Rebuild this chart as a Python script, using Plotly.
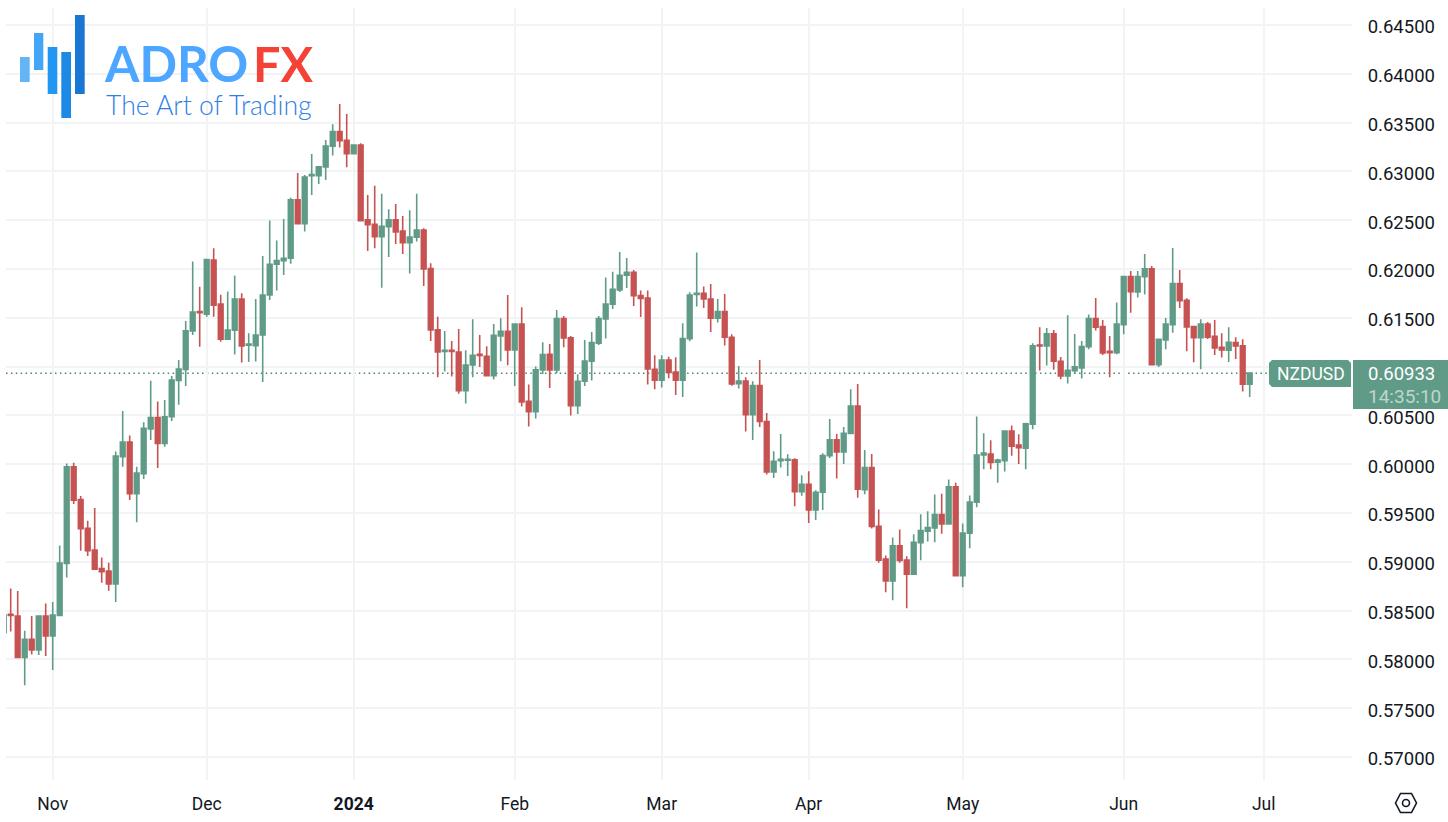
import pandas as pd
import plotly.graph_objects as go

opens = [
0.58273,0.58461,0.58444,0.58020,0.58205,0.58096,0.58444,0.58239,0.58451,0.58984,
0.59974,0.59639,0.59342,0.59120,0.58932,0.58905,0.58772,0.60076,0.60227,0.59697,
0.59902,0.60360,0.60479,0.60213,0.60486,0.60858,0.60971,0.61364,0.61565,0.61538,
0.62091,0.61640,0.61282,0.61374,0.61693,0.61219,0.61215,0.61324,0.61734,0.62048,
0.62086,0.62110,0.62708,0.62465,0.62957,0.62957,0.63046,0.63258,0.63408,0.63319,
0.63182,0.63271,0.62503,0.62458,0.62332,0.62434,0.62503,0.62390,0.62270,0.62325,
0.62400,0.62004,0.61376,0.61154,0.61167,0.61150,0.60754,0.61017,0.61126,0.61106,
0.60908,0.61314,0.61362,0.61171,0.61437,0.60645,0.60539,0.60966,0.61126,0.60966,
0.61492,0.61294,0.60600,0.60850,0.61055,0.61239,0.61488,0.61639,0.61785,0.61936,
0.61966,0.61727,0.61703,0.60973,0.60860,0.61068,0.60945,0.60860,0.61287,0.61738,
0.61751,0.61693,0.61495,0.61563,0.61300,0.60826,0.60853,0.60508,0.60805,0.60437,
0.59921,0.60037,0.60040,0.60044,0.59719,0.59795,0.59532,0.59713,0.60088,0.60249,
0.60126,0.60314,0.60597,0.59740,0.59965,0.59365,0.59027,0.58805,0.59164,0.59017,
0.58874,0.59195,0.59314,0.59348,0.59485,0.59389,0.59768,0.58857,0.59294,0.59611,
0.60096,0.60103,0.60021,0.60035,0.60339,0.60195,0.60165,0.60410,0.61222,0.61212,
0.61335,0.61055,0.60904,0.60959,0.60986,0.61205,0.61492,0.61410,0.61157,0.61143,
0.61430,0.61922,0.61765,0.61922,0.62001,0.61020,0.61273,0.61430,0.61850,0.61680,
0.61410,0.61297,0.61437,0.61311,0.61198,0.61167,0.61246,0.61212,0.60819]
highs = [
0.58471,0.58727,0.58700,0.58294,0.58444,0.58444,0.58574,0.58587,0.59168,0.60008,
0.60015,0.59673,0.59421,0.59550,0.59045,0.58990,0.60131,0.60544,0.60295,0.59974,
0.60431,0.60855,0.60643,0.60657,0.60903,0.61067,0.61466,0.62078,0.61818,0.62105,
0.62212,0.61736,0.61770,0.61934,0.61751,0.61342,0.61693,0.62134,0.62496,0.62291,
0.62513,0.62731,0.62984,0.62964,0.63179,0.63046,0.63322,0.63483,0.63691,0.63589,
0.63271,0.63288,0.62759,0.62854,0.62772,0.62612,0.62667,0.62544,0.62602,0.62772,
0.62417,0.62059,0.61512,0.61365,0.61263,0.61386,0.61167,0.61485,0.61324,0.61208,
0.61437,0.61495,0.61734,0.61437,0.61608,0.60816,0.61000,0.61249,0.61232,0.61580,
0.61519,0.61314,0.60921,0.61273,0.61355,0.61519,0.61912,0.61973,0.62175,0.62113,
0.61990,0.61779,0.61779,0.61116,0.61116,0.61102,0.61096,0.61444,0.61762,0.62168,
0.61820,0.61847,0.61693,0.61744,0.61331,0.61007,0.60891,0.60850,0.61068,0.60525,
0.60133,0.60310,0.60102,0.60061,0.59887,0.59928,0.59733,0.60112,0.60464,0.60310,
0.60382,0.60768,0.60822,0.60146,0.60105,0.59536,0.59065,0.59249,0.59331,0.59058,
0.59283,0.59488,0.59519,0.59690,0.59697,0.59843,0.59809,0.59393,0.59680,0.60489,
0.60318,0.60246,0.60055,0.60346,0.60397,0.60308,0.60424,0.61239,0.61403,0.61396,
0.61376,0.61099,0.61526,0.61335,0.61263,0.61533,0.61703,0.61478,0.61314,0.61656,
0.61922,0.61980,0.61980,0.62154,0.62031,0.61280,0.61499,0.62216,0.61990,0.61700,
0.61413,0.61485,0.61458,0.61478,0.61342,0.61403,0.61300,0.61280,0.60933]
lows = [
0.58266,0.58287,0.58014,0.57734,0.58051,0.58044,0.58034,0.57891,0.58451,0.58840,
0.59591,0.59113,0.59059,0.58925,0.58785,0.58703,0.58587,0.59974,0.59632,0.59404,
0.59848,0.60247,0.59960,0.60179,0.60442,0.60609,0.60800,0.61323,0.61203,0.61511,
0.61511,0.61254,0.61282,0.61125,0.61041,0.61048,0.61051,0.60843,0.61683,0.61779,
0.61939,0.62055,0.62465,0.62383,0.62759,0.62871,0.62912,0.63162,0.63244,0.63042,
0.63182,0.62489,0.62185,0.62212,0.61809,0.62124,0.62257,0.62154,0.61953,0.62281,
0.61826,0.61263,0.60891,0.60949,0.60898,0.60723,0.60621,0.60891,0.60997,0.60898,
0.60867,0.61055,0.61014,0.60802,0.60590,0.60385,0.60467,0.60925,0.60781,0.60932,
0.61198,0.60498,0.60515,0.60802,0.60857,0.61222,0.61287,0.61591,0.61765,0.61806,
0.61622,0.61509,0.60816,0.60768,0.60785,0.60880,0.60710,0.60689,0.61260,0.61615,
0.61601,0.61355,0.61451,0.61215,0.60805,0.60775,0.60334,0.60249,0.60382,0.59894,
0.59859,0.59965,0.59880,0.59569,0.59678,0.59398,0.59429,0.59532,0.60064,0.59853,
0.60003,0.60314,0.59655,0.59692,0.59340,0.58990,0.58689,0.58607,0.58990,0.58525,
0.58870,0.59017,0.59208,0.59201,0.59287,0.59389,0.58857,0.58740,0.59140,0.59560,
0.59949,0.59949,0.59809,0.59925,0.60086,0.60001,0.59949,0.60359,0.60959,0.61010,
0.60969,0.60870,0.60826,0.60925,0.60877,0.61178,0.61369,0.61120,0.60891,0.61126,
0.61331,0.61553,0.61707,0.61738,0.61017,0.60997,0.61178,0.61348,0.61601,0.61157,
0.61044,0.60973,0.61283,0.61120,0.61092,0.61048,0.61079,0.60744,0.60689]
closes = [
0.58454,0.58451,0.58020,0.58205,0.58096,0.58444,0.58239,0.58454,0.58987,0.59974,
0.59632,0.59339,0.59113,0.58925,0.58898,0.58772,0.60083,0.60227,0.59697,0.59909,
0.60367,0.60479,0.60213,0.60486,0.60862,0.60974,0.61367,0.61558,0.61552,0.62098,
0.61630,0.61282,0.61374,0.61692,0.61212,0.61232,0.61324,0.61734,0.62048,0.62086,
0.62110,0.62708,0.62465,0.62943,0.62967,0.63046,0.63261,0.63408,0.63315,0.63182,
0.63271,0.62496,0.62455,0.62332,0.62438,0.62503,0.62380,0.62270,0.62328,0.62400,
0.62001,0.61376,0.61150,0.61167,0.61154,0.60754,0.61017,0.61116,0.61113,0.60908,
0.61321,0.61362,0.61171,0.61437,0.60638,0.60539,0.60966,0.61123,0.60966,0.61492,
0.61294,0.60600,0.60850,0.61058,0.61246,0.61492,0.61642,0.61792,0.61936,0.61966,
0.61727,0.61697,0.60976,0.60860,0.61068,0.60939,0.60860,0.61287,0.61734,0.61751,
0.61693,0.61495,0.61563,0.61300,0.60822,0.60853,0.60508,0.60805,0.60437,0.59921,
0.60030,0.60051,0.60051,0.59719,0.59795,0.59532,0.59713,0.60088,0.60249,0.60126,
0.60317,0.60597,0.59743,0.59965,0.59361,0.59017,0.58805,0.59164,0.59014,0.58874,
0.59201,0.59321,0.59352,0.59485,0.59389,0.59768,0.58857,0.59294,0.59611,0.60093,
0.60113,0.60018,0.60042,0.60339,0.60185,0.60168,0.60414,0.61212,0.61212,0.61335,
0.61055,0.60904,0.60962,0.60997,0.61205,0.61492,0.61403,0.61140,0.61143,0.61437,
0.61922,0.61768,0.61922,0.62001,0.61020,0.61280,0.61437,0.61850,0.61676,0.61406,
0.61297,0.61437,0.61300,0.61191,0.61171,0.61249,0.61212,0.60819,0.60933]

start_date = "2023-10-23"
dates = pd.bdate_range(start_date, periods=len(opens)).strftime("%Y-%m-%d").tolist()
future_dates = ["2024-06-28", "2024-07-01"]

month_ticks = ["2023-11-01","2023-12-01","2024-01-01","2024-02-01","2024-03-01",
               "2024-04-01","2024-05-01","2024-06-03","2024-07-01"]
month_labels = ["Nov","Dec","<b>2024</b>","Feb","Mar","Apr","May","Jun","Jul"]
price_ticks = [0.57,0.575,0.58,0.585,0.59,0.595,0.60,0.605,0.61,0.615,0.62,
               0.625,0.63,0.635,0.64,0.645]
price_labels = ["0.57000","0.57500","0.58000","0.58500","0.59000","0.59500","0.60000",
                "0.60500","","0.61500","0.62000","0.62500","0.63000","0.63500","0.64000","0.64500"]
last_price = 0.60933

W, H = 1448, 822
L, R, T, B = 6, 1352, 8, 780
GREEN = "#5f9b87"
RED = "#c75252"
GRID = "#f2f3f4"
TEXT = "#131722"
FONT = "Roboto"

def px(x): return (x - L) / (R - L)
def py(y): return (B - y) / (B - T)

fig = go.Figure(go.Candlestick(
    x=dates, open=opens, high=highs, low=lows, close=closes,
    increasing=dict(line=dict(color=GREEN, width=1.6), fillcolor=GREEN),
    decreasing=dict(line=dict(color=RED, width=1.6), fillcolor=RED),
    whiskerwidth=0, showlegend=False, hoverinfo="skip"))

def rect(x0, y0, x1, y1, color):
    return dict(type="rect", xref="paper", yref="paper", x0=px(x0), x1=px(x1),
                y0=py(y0), y1=py(y1), fillcolor=color, line=dict(width=0), layer="above")

def poly(points, **kw):
    d = "M " + " L ".join(f"{px(a):.5f},{py(b):.5f}" for a, b in points) + " Z"
    return dict(type="path", xref="paper", yref="paper", path=d, layer="above", **kw)

shapes = [
    dict(type="line", xref="paper", yref="y", x0=0, x1=px(1269), y0=last_price, y1=last_price,
         line=dict(color="#4a8572", width=1.5, dash="1.5px,3.4px"), layer="below"),
    rect(20, 57, 29.7, 82, "#64b5f6"),
    rect(34, 33, 43.3, 70, "#42a5f5"),
    rect(47.7, 47, 57.3, 94, "#2196f3"),
    rect(61.3, 52, 71, 118, "#1e88e5"),
    rect(75, 15, 84.7, 94, "#1976d2"),
    poly([(1272,360),(1348,360),(1351,363),(1351,387),(1272,387),(1269,384),(1269,363)],
         fillcolor=GREEN, line=dict(width=0)),
    rect(1353, 360, 1448, 409, GREEN),
    poly([(1395.5,803),(1400.5,793.5),(1411.5,793.5),(1416.5,803),(1411.5,812.5),(1400.5,812.5)],
         fillcolor="rgba(0,0,0,0)", line=dict(color=TEXT, width=1.6)),
    dict(type="circle", xref="paper", yref="paper", x0=px(1402.5), x1=px(1409.5),
         y0=py(806.5), y1=py(799.5), line=dict(color=TEXT, width=1.6), layer="above"),
]

def note(x, y, s, size, color, anchor="left", family=FONT):
    return dict(xref="paper", yref="paper", x=px(x), y=py(y), text=s, showarrow=False,
                xanchor=anchor, yanchor="middle", align=anchor,
                font=dict(family=family, size=size, color=color))

annotations = [
    note(102, 63, "<b>ADRO</b>", 49.5, "#4da6ff", family="Lato"),
    note(251, 63, "<b>FX</b>", 48.5, "#f44336", family="Lato"),
    note(104, 104.5, "The Art of Trading", 26.6, "#2f80e4", family="Lato Light, Lato"),
    note(1311, 373.5, "NZDUSD", 17.5, "#ffffff", "center"),
    note(1366, 373.5, "0.60933", 18.5, "#ffffff"),
    note(1366, 396.5, "14:35:10", 19, "rgba(255,255,255,0.6)"),
]

fig.update_layout(
    width=W, height=H, autosize=False,
    margin=dict(l=L, r=W - R, t=T, b=H - B, pad=0, autoexpand=False),
    paper_bgcolor="white", plot_bgcolor="white",
    font=dict(family=FONT, size=18, color=TEXT),
    boxgap=0.33, boxgroupgap=0, shapes=shapes, annotations=annotations,
    xaxis=dict(type="category", categoryorder="array", categoryarray=dates + future_dates,
               range=[(L - 3.7) / 7, (R - 3.7) / 7], rangeslider=dict(visible=False),
               tickmode="array", tickvals=month_ticks, ticktext=month_labels,
               showgrid=True, gridcolor=GRID, gridwidth=1.5, zeroline=False,
               ticks="outside", ticklen=8, tickcolor="white", showline=False,
               tickfont=dict(family=FONT, size=17.5, color=TEXT)),
    yaxis=dict(side="right", range=[0.645 - (B - 25) / 9760, 0.645 + (25 - T) / 9760],
               tickmode="array", tickvals=price_ticks, ticktext=price_labels,
               ticklabelshift=2,
               showgrid=True, gridcolor=GRID, gridwidth=1.5, zeroline=False,
               ticks="outside", ticklen=11, tickcolor="white", showline=False,
               tickfont=dict(family=FONT, size=18.5, color=TEXT)),
)

fig.write_html("out.html", config=dict(displayModeBar=False),
               post_script="document.body.style.margin='0';")
